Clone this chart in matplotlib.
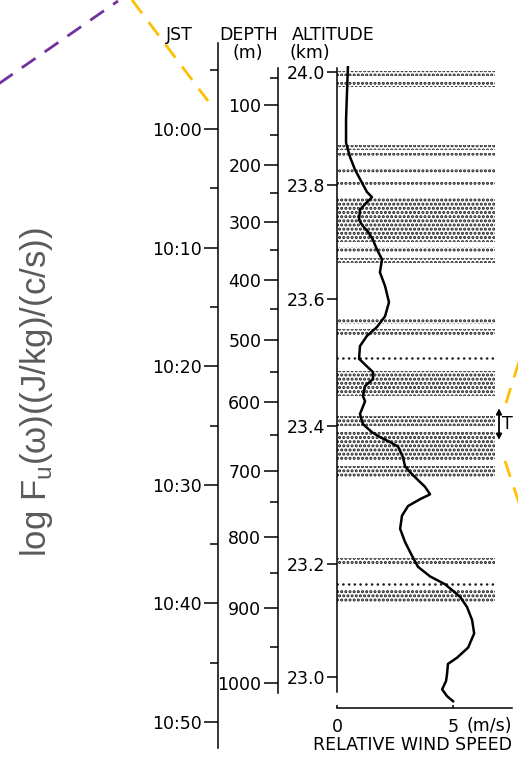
"""Balloon-borne wind profile: relative wind speed vs altitude, with depth and JST scales."""

import numpy as np
import matplotlib

matplotlib.use("Agg")
import matplotlib.pyplot as plt
from matplotlib.lines import Line2D
from matplotlib.transforms import Affine2D

# ---- data ----
altitude = [24.009, 23.964, 23.916, 23.875, 23.850, 23.827, 23.804, 23.788, 23.779, 23.770,
            23.757, 23.739, 23.730, 23.718, 23.704, 23.687, 23.670, 23.647, 23.623, 23.595,
            23.573, 23.556, 23.542, 23.526, 23.506, 23.494, 23.485, 23.474, 23.463, 23.447,
            23.439, 23.419, 23.403, 23.391, 23.384, 23.377, 23.370, 23.355, 23.342, 23.333,
            23.323, 23.312, 23.301, 23.294, 23.284, 23.270, 23.251, 23.232, 23.212, 23.195,
            23.178, 23.164, 23.142, 23.124, 23.101, 23.077, 23.052, 23.034, 23.023, 23.005,
            22.993, 22.978, 22.966, 22.957]
wind_speed = [0.47, 0.43, 0.39, 0.39, 0.56, 0.78, 1.08, 1.29, 1.51, 1.29,
              0.99, 0.95, 1.08, 1.34, 1.55, 1.72, 1.94, 1.85, 2.07, 2.24,
              2.07, 1.72, 1.29, 0.99, 0.95, 1.29, 1.55, 1.55, 1.21, 1.12,
              1.21, 0.99, 1.12, 1.51, 1.85, 2.28, 2.63, 2.84, 2.93, 3.15,
              3.45, 3.79, 4.01, 3.58, 3.06, 2.80, 2.72, 2.93, 3.23, 3.49,
              4.01, 4.66, 5.30, 5.60, 5.82, 5.91, 5.65, 5.17, 4.78, 4.74,
              4.70, 4.53, 4.74, 5.00]

# stippled (turbulent) layers, km
layer_top = [24.002, 23.982, 23.871, 23.857, 23.830, 23.805, 23.777, 23.692, 23.673,
             23.569, 23.553, 23.487, 23.416, 23.391, 23.342, 23.209, 23.155]
layer_bottom = [23.993, 23.973, 23.862, 23.850, 23.821, 23.798, 23.701, 23.683, 23.664,
                23.561, 23.542, 23.447, 23.400, 23.349, 23.326, 23.200, 23.133]
layer_width = 6.8  # m/s
dotted_rows = [23.507, 23.165]

alt_ticks = [23.0, 23.2, 23.4, 23.6, 23.8, 24.0]
depth_ticks = [100, 200, 300, 400, 500, 600, 700, 800, 900, 1000]
depth_minor = [50, 150, 250, 350, 450, 550, 650, 750, 850, 950]
jst_ticks = [0, 10, 20, 30, 40, 50]  # minutes after 10:00
jst_labels = ["10:00", "10:10", "10:20", "10:30", "10:40", "10:50"]
jst_minor = [-5, 5, 15, 25, 35, 45]
speed_ticks = [0, 5]

# ---- layout (figure pixels) ----
W, H = 518, 762
# where the altitude / depth ticks sit on the (non-uniform) printed scales
ALT_KNOTS = np.array([22.8, 23.0, 23.2, 23.4, 23.6, 23.8, 24.0, 24.2])
ALT_PX = np.array([790, 677, 564, 426, 299, 185, 72, -41])
DEPTH_KNOTS = np.arange(0, 1051, 50)
DEPTH_PX = np.array([50, 78, 105, 135, 165, 193, 222, 250, 280, 309, 340,
                     372, 402, 435, 471, 502, 537, 573, 608, 647, 683, 719])

plt.rcParams["mathtext.fontset"] = "custom"
plt.rcParams["mathtext.rm"] = "Liberation Sans"
plt.rcParams["hatch.color"] = "#1a1a1a"
plt.rcParams["hatch.linewidth"] = 1.5

fig = plt.figure(figsize=(W / 100, H / 100), dpi=100)
fig.patch.set_facecolor("white")


def px_axes(left, top, right, bottom):
    return fig.add_axes([left / W, 1 - bottom / H, (right - left) / W, (bottom - top) / H])


def only_left_spine(ax):
    for side in ("top", "right", "bottom"):
        ax.spines[side].set_visible(False)
    ax.spines["left"].set_linewidth(1.1)
    ax.set_xticks([])
    ax.patch.set_visible(False)


alt_fwd = lambda a: np.interp(a, ALT_KNOTS, -ALT_PX)
alt_inv = lambda p: np.interp(p, -ALT_PX, ALT_KNOTS)
dep_fwd = lambda d: np.interp(d, DEPTH_KNOTS, DEPTH_PX)
dep_inv = lambda p: np.interp(p, DEPTH_PX, DEPTH_KNOTS)

TXT = 12.5

# ---- JST axis ----
ax_t = px_axes(218, 43, 219, 748)
only_left_spine(ax_t)
ax_t.set_ylim(52.19, -7.25)
ax_t.set_yticks(jst_ticks, jst_labels)
ax_t.set_yticks(jst_minor, minor=True)
ax_t.tick_params(axis="y", which="major", length=10, width=1.1, pad=1.5, labelsize=TXT)
ax_t.tick_params(axis="y", which="minor", length=6, width=1.1)

# ---- depth axis ----
ax_d = px_axes(278, 68, 279, 693)
only_left_spine(ax_d)
ax_d.set_yscale("function", functions=(dep_fwd, dep_inv))
ax_d.set_ylim(1014, 32)
ax_d.set_yticks(depth_ticks, [str(d) for d in depth_ticks])
ax_d.set_yticks(depth_minor, minor=True)
ax_d.yaxis.set_minor_formatter(plt.NullFormatter())
ax_d.tick_params(axis="y", which="major", length=10, width=1.1, pad=2, labelsize=TXT)
ax_d.tick_params(axis="y", which="minor", length=6, width=1.1)

# ---- profile axes ----
ax = px_axes(337, 66, 512, 708)
ax.set_yscale("function", functions=(alt_fwd, alt_inv))
ax.set_ylim(22.945, 24.011)
ax.set_xlim(0, 7.54)
ax.patch.set_visible(False)
for side in ("top", "right"):
    ax.spines[side].set_visible(False)
ax.spines["left"].set_linewidth(1.1)
ax.spines["bottom"].set_linewidth(1.1)
ax.spines["left"].set_bounds(22.973, 24.007)

ax.barh([(t + b) / 2 for t, b in zip(layer_top, layer_bottom)], layer_width,
        height=[t - b for t, b in zip(layer_top, layer_bottom)], left=0,
        facecolor="white", edgecolor="#1a1a1a", hatch="....", linewidth=0, zorder=1)
ax.hlines(dotted_rows, 0, layer_width, colors="#1a1a1a", linewidths=1.8,
          linestyles=(0, (0.1, 2.2)), capstyle="round", zorder=1)

ax.plot(wind_speed, altitude, color="black", lw=1.8, solid_joinstyle="round", zorder=3)

ax.set_yticks(alt_ticks, [f"{a:.1f}" for a in alt_ticks])
ax.yaxis.set_minor_locator(plt.NullLocator())
ax.tick_params(axis="y", length=7, width=1.1, pad=1.5, labelsize=TXT)
ax.set_xticks(speed_ticks, [str(s) for s in speed_ticks])
ax.tick_params(axis="x", direction="in", length=2.5, width=1.1, pad=7, labelsize=TXT)
ax.text(5.6, -0.028, "(m/s)", transform=ax.get_xaxis_transform(), fontsize=TXT,
        ha="left", va="center")
ax.set_xlabel("RELATIVE WIND SPEED", fontsize=TXT)
ax.xaxis.label.set_va("center")
ax.xaxis.set_label_coords(0.434, -0.0576)

# "T" marker
ax.annotate("", xy=(6.98, 23.380), xytext=(6.98, 23.428), annotation_clip=False,
            arrowprops=dict(arrowstyle="<|-|>", color="black", lw=1.3,
                            mutation_scale=8, shrinkA=0, shrinkB=0))
ax.text(7.33, 23.404, "T", fontsize=TXT, ha="center", va="center", clip_on=False)

# column headers
fig.text(179 / W, 1 - 35 / H, "JST", fontsize=TXT, ha="center", va="center")
fig.text(249 / W, 1 - 35 / H, "DEPTH", fontsize=TXT, ha="center", va="center")
fig.text(248 / W, 1 - 53 / H, "(m)", fontsize=TXT, ha="center", va="center")
fig.text(333 / W, 1 - 35 / H, "ALTITUDE", fontsize=TXT, ha="center", va="center")
fig.text(310 / W, 1 - 53 / H, "(km)", fontsize=TXT, ha="center", va="center")

# overlay from the surrounding slide
fig.text(37 / W, 1 - 392 / H, r"log F$_\mathrm{u}$(ω)((J/kg)/(c/s))", rotation=90,
         fontsize=25, color="#5a5a5a", family="Liberation Sans", ha="center", va="center")

pix = Affine2D().scale(1 / W, -1 / H).translate(0, 1) + fig.transFigure
overlay = [
    ([-3, 118], [85, 1], "#7030A0"),
    ([132, 208], [0, 101], "#FFC000"),
    ([522, 506], [352, 403], "#FFC000"),
    ([505, 519], [461, 503], "#FFC000"),
]
for xs, ys, col in overlay:
    fig.add_artist(Line2D(xs, ys, color=col, lw=2.0, linestyle=(0, (6, 4)),
                          transform=pix, solid_capstyle="butt"))

fig.savefig("out.png", dpi=100)
